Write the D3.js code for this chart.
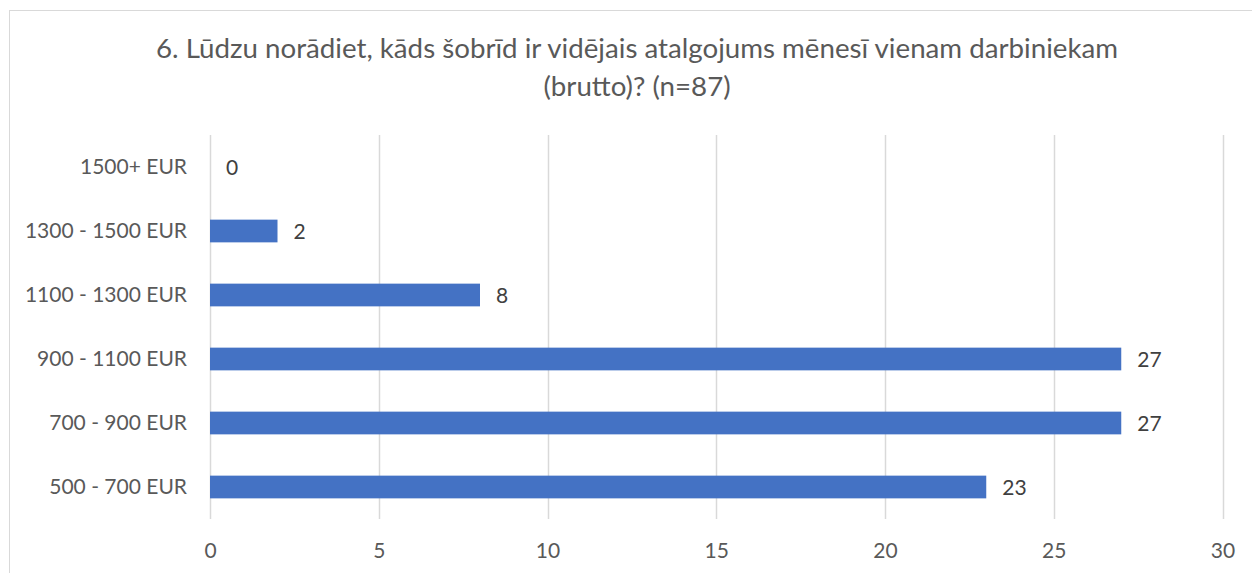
<!DOCTYPE html>
<html>
<head>
<meta charset="utf-8">
<script src="https://cdn.jsdelivr.net/npm/d3@7"></script>
<style>
  body { margin: 0; background: #fff; }
  svg text { font-family: Lato, "Open Sans", sans-serif; }
</style>
</head>
<body>
<svg id="chart" width="1252" height="573"></svg>
<script>
// data
var categories = ['1500+ EUR', '1300 - 1500 EUR', '1100 - 1300 EUR', '900 - 1100 EUR', '700 - 900 EUR', '500 - 700 EUR'];
var counts = [0, 2, 8, 27, 27, 23];
var xTicks = [0, 5, 10, 15, 20, 25, 30];
var titleLines = ['6. Lūdzu norādiet, kāds šobrīd ir vidējais atalgojums mēnesī vienam darbiniekam', '(brutto)? (n=87)'];

var svg = d3.select('#chart');

// chart frame (runs off the right and bottom edge)
svg.append('rect')
    .attr('x', 9.5)
    .attr('y', 10.5)
    .attr('width', 1300)
    .attr('height', 700)
    .attr('fill', '#fff')
    .attr('stroke', '#d9d9d9')
    .attr('stroke-width', 1);

var xScale = d3.scaleLinear().domain([0, 30]).range([210, 1222.5]);
var yScale = d3.scaleBand().domain(categories).range([135, 519])
    .paddingInner(0.645).paddingOuter(0.3225);

// title
svg.append('g').selectAll('text')
    .data(titleLines)
    .enter()
    .append('text')
    .attr('x', 637)
    .attr('y', function(d, i) { return 58 + i * 38; })
    .attr('text-anchor', 'middle')
    .attr('fill', '#595959')
    .style('font-size', '27.7px')
    .text(function(d) { return d; });

// vertical gridlines
svg.append('g').selectAll('line')
    .data(xTicks)
    .enter()
    .append('line')
    .attr('x1', function(d) { return Math.round(xScale(d)) + 0.5; })
    .attr('x2', function(d) { return Math.round(xScale(d)) + 0.5; })
    .attr('y1', 135)
    .attr('y2', 519)
    .attr('stroke', '#d9d9d9')
    .attr('stroke-width', 1.5);

// x axis labels
var xAxis = svg.append('g')
    .attr('transform', 'translate(0,' + 519 + ')')
    .call(d3.axisBottom(xScale).tickValues(xTicks).tickSize(0).tickPadding(24));
xAxis.select('.domain').remove();
xAxis.selectAll('text')
    .attr('fill', '#595959')
    .style('font-size', '21px')
    .style('font-family', 'Lato, sans-serif');

// y axis labels
var yAxis = svg.append('g')
    .attr('transform', 'translate(' + 187 + ',0)')
    .call(d3.axisLeft(yScale).tickSize(0).tickPadding(0));
yAxis.select('.domain').remove();
yAxis.selectAll('text')
    .attr('fill', '#595959')
    .style('font-size', '21px')
    .style('font-family', 'Lato, sans-serif');

// bars
var rows = categories.map(function(c, i) { return {cat: c, value: counts[i]}; });

svg.append('g').selectAll('rect')
    .data(rows)
    .enter()
    .append('rect')
    .attr('x', xScale(0))
    .attr('y', function(d) { return yScale(d.cat); })
    .attr('width', function(d) { return xScale(d.value) - xScale(0); })
    .attr('height', yScale.bandwidth())
    .attr('fill', '#4472c4');

// value labels
svg.append('g').selectAll('text')
    .data(rows)
    .enter()
    .append('text')
    .attr('x', function(d) { return xScale(d.value) + 16; })
    .attr('y', function(d) { return yScale(d.cat) + yScale.bandwidth() / 2; })
    .attr('dy', '0.37em')
    .attr('fill', '#404040')
    .style('font-size', '21px')
    .text(function(d) { return d.value; });
</script>
</body>
</html>
